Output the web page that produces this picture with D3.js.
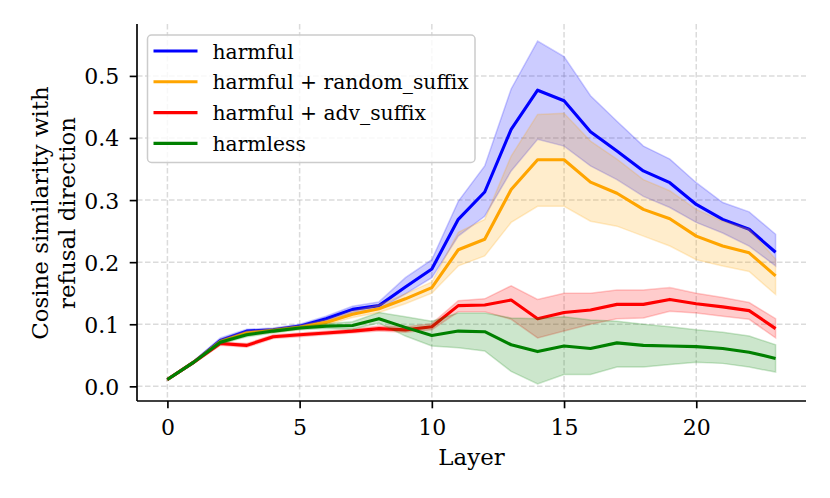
<!DOCTYPE html>
<html>
<head>
<meta charset="utf-8">
<script src="https://cdn.jsdelivr.net/npm/d3@7"></script>
<style>
  html, body { margin: 0; padding: 0; background: #fff; }
  svg text { font-family: "DejaVu Serif", serif; fill: #000; }
</style>
</head>
<body>
<svg id="chart" width="830" height="498"></svg>
<script>
const layers = [0,1,2,3,4,5,6,7,8,9,10,11,12,13,14,15,16,17,18,19,20,21,22,23];

const harmfulMean  = [0.011,0.039,0.074,0.089,0.091,0.097,0.109,0.124,0.130,0.160,0.189,0.269,0.313,0.414,0.477,0.460,0.410,0.379,0.347,0.328,0.293,0.269,0.253,0.216];
const harmfulUpper = [0.012,0.041,0.078,0.092,0.094,0.100,0.113,0.129,0.136,0.175,0.204,0.298,0.355,0.479,0.556,0.531,0.468,0.427,0.387,0.366,0.328,0.296,0.281,0.245];
const harmfulLower = [0.010,0.037,0.070,0.086,0.088,0.094,0.105,0.119,0.124,0.149,0.175,0.242,0.274,0.347,0.398,0.387,0.355,0.333,0.306,0.288,0.264,0.247,0.226,0.194];

const randomMean  = [0.011,0.039,0.072,0.086,0.090,0.095,0.103,0.116,0.125,0.141,0.159,0.220,0.237,0.317,0.365,0.365,0.329,0.311,0.285,0.270,0.242,0.226,0.215,0.178];
const randomUpper = [0.012,0.041,0.075,0.089,0.093,0.098,0.107,0.121,0.131,0.149,0.168,0.248,0.269,0.371,0.438,0.440,0.395,0.366,0.333,0.315,0.285,0.266,0.253,0.205];
const randomLower = [0.010,0.037,0.069,0.083,0.087,0.092,0.099,0.111,0.119,0.133,0.150,0.194,0.210,0.264,0.290,0.290,0.266,0.258,0.242,0.226,0.204,0.194,0.185,0.148];

const advMean  = [0.011,0.039,0.069,0.066,0.080,0.083,0.086,0.089,0.093,0.091,0.096,0.130,0.131,0.139,0.109,0.119,0.123,0.132,0.132,0.140,0.133,0.128,0.122,0.093];
const advUpper = [0.012,0.041,0.072,0.069,0.083,0.086,0.089,0.092,0.097,0.096,0.101,0.138,0.141,0.162,0.140,0.150,0.150,0.155,0.155,0.159,0.150,0.143,0.135,0.109];
const advLower = [0.010,0.037,0.066,0.063,0.077,0.080,0.083,0.086,0.089,0.087,0.091,0.120,0.120,0.108,0.078,0.089,0.100,0.109,0.110,0.121,0.118,0.113,0.108,0.078];

const harmlessMean  = [0.011,0.039,0.071,0.083,0.089,0.094,0.097,0.098,0.109,0.095,0.082,0.089,0.088,0.067,0.056,0.065,0.061,0.070,0.066,0.065,0.064,0.061,0.055,0.045];
const harmlessUpper = [0.012,0.041,0.074,0.086,0.092,0.097,0.101,0.104,0.119,0.112,0.105,0.118,0.118,0.110,0.109,0.112,0.107,0.105,0.100,0.096,0.091,0.087,0.081,0.067];
const harmlessLower = [0.010,0.037,0.068,0.080,0.086,0.091,0.093,0.092,0.102,0.081,0.065,0.062,0.057,0.024,0.004,0.019,0.019,0.031,0.031,0.035,0.039,0.037,0.031,0.023];

const seriesNames  = ["harmful", "harmful + random_suffix", "harmful + adv_suffix", "harmless"];
const seriesColors = ["#0000ff", "#ffa500", "#ff0000", "#008000"];
const xTicks = [0, 5, 10, 15, 20];
const yTicks = [0.0, 0.1, 0.2, 0.3, 0.4, 0.5];
const xLabel = "Layer";
const yLabelLines = ["Cosine similarity with", "refusal direction"];

const series = [
  {name: seriesNames[0], color: seriesColors[0], mean: harmfulMean, lo: harmfulLower, hi: harmfulUpper},
  {name: seriesNames[1], color: seriesColors[1], mean: randomMean, lo: randomLower, hi: randomUpper},
  {name: seriesNames[2], color: seriesColors[2], mean: advMean, lo: advLower, hi: advUpper},
  {name: seriesNames[3], color: seriesColors[3], mean: harmlessMean, lo: harmlessLower, hi: harmlessUpper},
];

const FS_TICK = 22, FS_LABEL = 22.9, FS_LEG = 20.3;
const pL = 137, pR = 806, pT = 24, pB = 401;
const svg = d3.select("#chart");

// matplotlib-style 5% margins
const xmin = d3.min(layers), xmax = d3.max(layers);
const xpad = (xmax - xmin) * 0.05;
const allLo = d3.min(series, s => d3.min(s.lo));
const allHi = d3.max(series, s => d3.max(s.hi));
const ypad = (allHi - allLo) * 0.05;

const x = d3.scaleLinear().domain([xmin - xpad, xmax + xpad]).range([pL, pR]);
const y = d3.scaleLinear().domain([allLo - ypad, allHi + ypad]).range([pB, pT]);

// grid
const grid = svg.append("g");
grid.selectAll("line.vx").data(xTicks).join("line")
  .attr("x1", d => x(d)).attr("x2", d => x(d)).attr("y1", pT).attr("y2", pB)
  .attr("stroke", "#b0b0b0").attr("stroke-opacity", 0.45).attr("stroke-width", 1.5)
  .attr("stroke-dasharray", "5.5,2.5");
grid.selectAll("line.hy").data(yTicks).join("line")
  .attr("x1", pL).attr("x2", pR).attr("y1", d => y(d)).attr("y2", d => y(d))
  .attr("stroke", "#b0b0b0").attr("stroke-opacity", 0.45).attr("stroke-width", 1.5)
  .attr("stroke-dasharray", "5.5,2.5");

// series
const line = d3.line().x((d, i) => x(layers[i])).y(d => y(d));
const plot = svg.append("g");
series.forEach(s => {
  plot.append("path").datum(s.mean).attr("d", line)
    .attr("fill", "none").attr("stroke", s.color).attr("stroke-width", 3.1)
    .attr("stroke-linejoin", "round").attr("stroke-linecap", "butt");
  const area = d3.area().x((d, i) => x(layers[i])).y0((d, i) => y(s.lo[i])).y1((d, i) => y(s.hi[i]));
  plot.append("path").datum(s.mean).attr("d", area)
    .attr("fill", s.color).attr("fill-opacity", 0.2)
    .attr("stroke", s.color).attr("stroke-opacity", 0.2).attr("stroke-width", 1.5);
});

// axes
const xAxis = d3.axisBottom(x).tickValues(xTicks).tickFormat(d3.format("d")).tickSizeOuter(0).tickSize(7.3).tickPadding(7.3);
const gx = svg.append("g").attr("transform", `translate(0,${pB})`).call(xAxis);
const yAxis = d3.axisLeft(y).tickValues(yTicks).tickFormat(d3.format(".1f")).tickSizeOuter(0).tickSize(7.3).tickPadding(10.4);
const gy = svg.append("g").attr("transform", `translate(${pL},0)`).call(yAxis);
[gx, gy].forEach(g => {
  g.select(".domain").attr("stroke", "#000").attr("stroke-width", 1.67);
  g.selectAll(".tick line").attr("stroke", "#000").attr("stroke-width", 1.67);
  g.selectAll(".tick text").attr("font-family", "DejaVu Serif").attr("font-size", FS_TICK).attr("fill", "#000");
});
gx.selectAll(".tick text").attr("y", 34).attr("dy", null);
gy.selectAll(".tick text").attr("dy", "0.36em");
gx.select(".domain").attr("d", `M${pL},0H${pR}`);
gy.select(".domain").attr("d", `M0,${pB}V${pT}`);

// axis labels
svg.append("text").attr("x", (pL + pR) / 2).attr("y", 465)
  .attr("text-anchor", "middle").attr("font-size", FS_LABEL).text(xLabel);
const yl = svg.append("text").attr("transform", `translate(0,${(pT + pB) / 2 + 0.5}) rotate(-90)`)
  .attr("text-anchor", "middle").attr("font-size", FS_LABEL);
yLabelLines.forEach((t, i) => {
  yl.append("tspan").attr("x", 0).attr("y", 47.5 + i * 27.5).text(t);
});

// legend
const lg = svg.append("g");
lg.append("rect").attr("x", 147.5).attr("y", 35).attr("width", 327.5).attr("height", 127.5)
  .attr("rx", 4).attr("fill", "#fff").attr("fill-opacity", 0.8)
  .attr("stroke", "#cccccc").attr("stroke-width", 1.5);
series.forEach((s, i) => {
  const ly = 51 + i * 30.8;
  lg.append("line").attr("x1", 153.5).attr("x2", 197.5).attr("y1", ly).attr("y2", ly)
    .attr("stroke", s.color).attr("stroke-width", 3.1);
  lg.append("text").attr("x", 212.5).attr("y", ly + 7.6).attr("font-size", FS_LEG).text(s.name);
});
</script>
</body>
</html>
